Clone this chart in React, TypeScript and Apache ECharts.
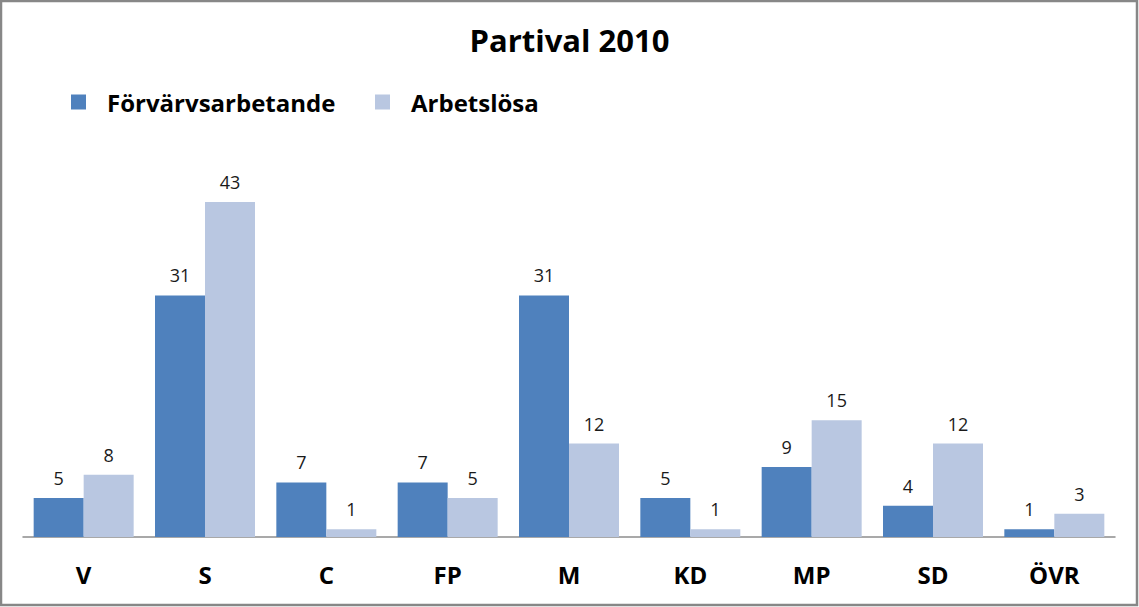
import React, { useEffect, useRef } from "react";
import * as echarts from "echarts";

const categories = ["V", "S", "C", "FP", "M", "KD", "MP", "SD", "ÖVR"];
const forvarvsarbetande = [5, 31, 7, 7, 31, 5, 9, 4, 1];
const arbetslosa = [8, 43, 1, 5, 12, 1, 15, 12, 3];
const seriesNames = ["Förvärvsarbetande", "Arbetslösa"];
const titleText = "Partival 2010";

const FONT = "'Open Sans', 'Liberation Sans', sans-serif";

export default function App() {
  const ref = useRef<HTMLDivElement>(null);
  useEffect(() => {
    if (!ref.current) return;
    const chart = echarts.init(ref.current, null, { renderer: "svg" });
    const labelStyle = {
      show: true,
      position: "top" as const,
      distance: 11,
      color: "#1a1a1a",
      fontSize: 18,
      fontFamily: FONT,
    };
    const legendText = {
      fontFamily: FONT,
      fontWeight: "bold",
      fontSize: 24,
      color: "#000",
      padding: [0, 0, 0, 16],
    };
    chart.setOption({
      animation: false,
      backgroundColor: "#ffffff",
      title: {
        text: titleText,
        left: "center",
        top: 19,
        textStyle: { fontFamily: FONT, fontWeight: "bold", fontSize: 31, color: "#000" },
      },
      legend: [
        {
          data: [seriesNames[0]],
          left: 66,
          top: 85,
          icon: "rect",
          itemWidth: 15,
          itemHeight: 15,
          textStyle: legendText,
        },
        {
          data: [seriesNames[1]],
          left: 370,
          top: 85,
          icon: "rect",
          itemWidth: 15,
          itemHeight: 15,
          textStyle: legendText,
        },
      ],
      grid: { left: 23, right: 24, top: 202, bottom: 70, containLabel: false },
      xAxis: {
        type: "category",
        data: categories,
        axisLine: { lineStyle: { color: "#8c8c8c", width: 1.5 } },
        axisTick: { show: false },
        axisLabel: {
          margin: 25,
          fontFamily: FONT,
          fontWeight: "bold",
          fontSize: 24,
          color: "#000",
        },
      },
      yAxis: {
        type: "value",
        min: 0,
        max: 43,
        show: false,
        splitLine: { show: false },
      },
      graphic: [
        {
          type: "rect",
          shape: { x: 1, y: 1, width: 1136, height: 604 },
          style: { fill: "none", stroke: "#878787", lineWidth: 2.5 },
          silent: true,
        },
      ],
      series: [
        {
          name: seriesNames[0],
          type: "bar",
          data: forvarvsarbetande,
          barWidth: 50,
          barGap: "0%",
          itemStyle: { color: "#4F81BD" },
          label: labelStyle,
        },
        {
          name: seriesNames[1],
          type: "bar",
          data: arbetslosa,
          barWidth: 50,
          barGap: "0%",
          itemStyle: { color: "#B9C7E1" },
          label: labelStyle,
        },
      ],
    });
    return () => chart.dispose();
  }, []);
  return (
    <div
      ref={ref}
      style={{ position: "fixed", left: 0, top: 0, width: 1139, height: 607 }}
    />
  );
}
